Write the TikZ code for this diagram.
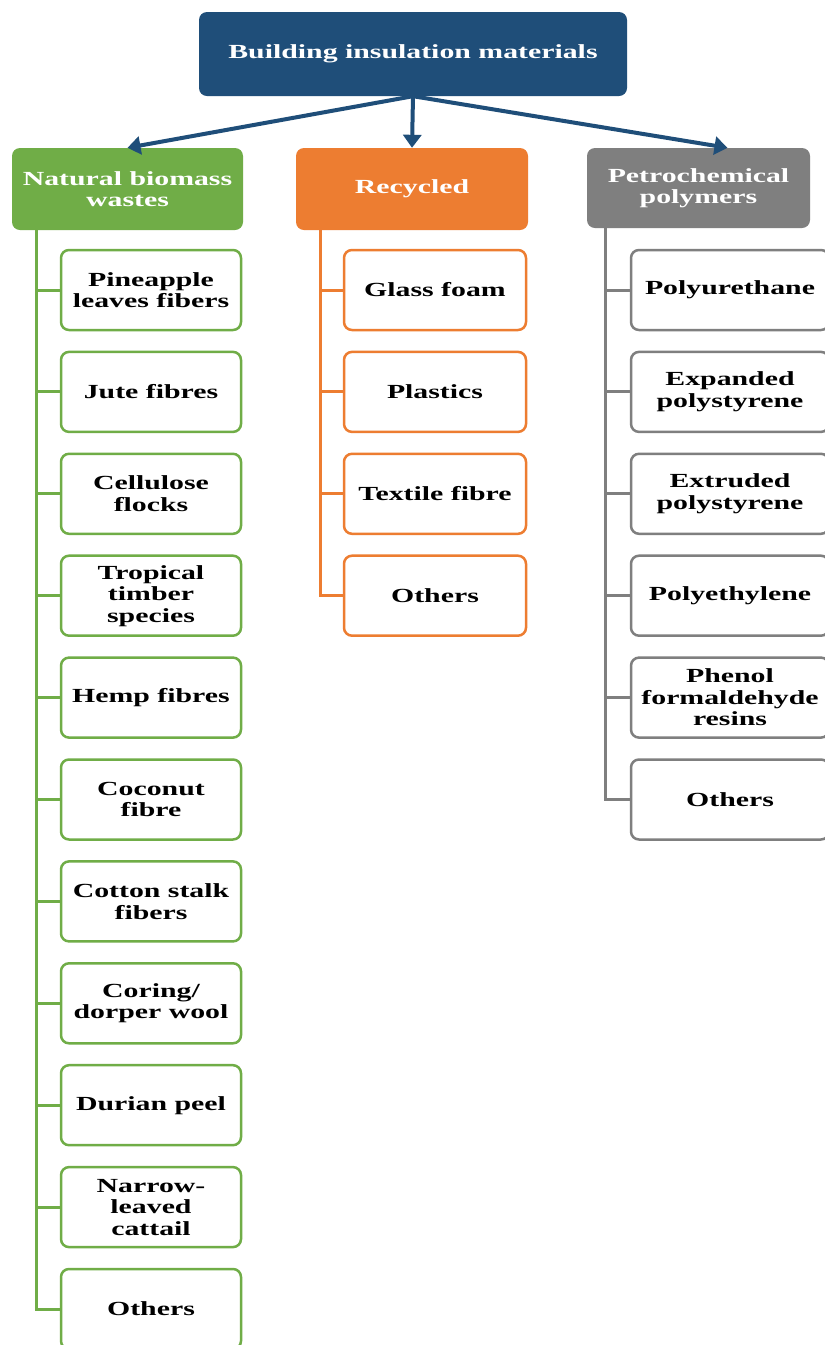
\documentclass[tikz,border=0pt]{standalone}
\usepackage{fontspec}
\setmainfont[FakeStretch=1.49]{Liberation Serif}
\usepackage{tikz}
\usetikzlibrary{arrows,arrows.meta,positioning}

\definecolor{topblue}{HTML}{1F4E79}
\definecolor{natgreen}{HTML}{70AD47}
\definecolor{recorange}{HTML}{ED7D31}
\definecolor{petgray}{HTML}{7F7F7F}

\begin{document}
\begin{tikzpicture}[x=1pt,y=-1pt]
\tikzstyle{every node}=[font=\fontsize{20}{21.5}\selectfont\bfseries, align=center, rounded corners=8pt]
\tikzstyle{hdr}=[rectangle, text=white, minimum height=82pt, inner sep=2pt]
\tikzstyle{leaf}=[rectangle, draw, line width=2.5pt, fill=white, minimum height=80pt, inner sep=2pt]
\tikzstyle{link}=[line width=3pt]
\tikzstyle{big}=[draw=topblue, line width=4pt, -{Triangle[width=18pt,length=13pt]}]
\useasboundingbox (0,0) rectangle (825,1345);
\fill[white] (0,0) rectangle (825,1345);

\node[hdr, fill=topblue, minimum width=428pt, minimum height=84pt] (top) at (413,54) {Building insulation materials};
\node[hdr, fill=natgreen, minimum width=231pt] (nat) at (127.5,189) {Natural biomass\\wastes};
\node[hdr, fill=recorange, minimum width=232pt] (rec) at (412,189) {Recycled};
\node[hdr, fill=petgray, minimum width=223pt, minimum height=80pt] (pet) at (698.5,188) {Petrochemical\\polymers};

\draw[big] (top.south) -- (nat.north);
\draw[big] (top.south) -- (rec.north);
\draw[big] (top.south) -- ([xshift=29pt]pet.north);

% natural biomass wastes
\foreach \t [count=\i] in {{Pineapple\\leaves fibers},{Jute fibres},{Cellulose\\flocks},{Tropical\\timber\\species},{Hemp fibres},{Coconut\\fibre},{Cotton stalk\\fibers},{Coring/\\dorper wool},{Durian peel},{Narrow-\\leaved\\cattail},{Others}}{
  \node[leaf, draw=natgreen, minimum width=180pt] (n\i) at (151,{290+101.9*(\i-1)}) {\t};
  \draw[natgreen, link] ([xshift=25pt]nat.south west) |- (n\i.west);
}

% recycled
\foreach \t [count=\i] in {{Glass foam},{Plastics},{Textile fibre},{Others}}{
  \node[leaf, draw=recorange, minimum width=182pt] (r\i) at (435,{290+101.9*(\i-1)}) {\t};
  \draw[recorange, link] ([xshift=25pt]rec.south west) |- (r\i.west);
}

% petrochemical polymers
\foreach \t [count=\i] in {{Polyurethane},{Expanded\\polystyrene},{Extruded\\polystyrene},{Polyethylene},{Phenol\\formaldehyde\\resins},{Others}}{
  \node[leaf, draw=petgray, minimum width=198pt] (p\i) at (730,{290+101.9*(\i-1)}) {\t};
  \draw[petgray, link] ([xshift=19pt]pet.south west) |- (p\i.west);
}
\end{tikzpicture}
\end{document}
